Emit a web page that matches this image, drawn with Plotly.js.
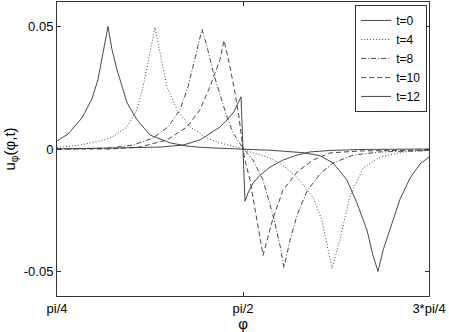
<!DOCTYPE html>
<html>
<head>
<meta charset="utf-8">
<script src="https://cdn.plot.ly/plotly-3.0.1.min.js"></script>
<style>
  html, body { margin: 0; padding: 0; background: #fff; }
  #graph { width: 449px; height: 332px; }
</style>
</head>
<body>
<div id="graph"></div>
<script>
// phi is kept in units of pi (0.25 = pi/4 ... 0.75 = 3*pi/4)
const x_t0 = [0.25, 0.2648, 0.2836, 0.2970, 0.3051, 0.3118, 0.3185, 0.3239, 0.3306, 0.3441, 0.3575, 0.3750, 0.4019, 0.4247, 0.4422, 0.4691, 0.5, 0.5363, 0.5807, 0.6035, 0.6210, 0.6398, 0.6532, 0.6667, 0.6747, 0.6815, 0.6882, 0.7003, 0.7110, 0.7245, 0.7379, 0.75];
const u_t0 = [0.0033, 0.0061, 0.0127, 0.0205, 0.0283, 0.0385, 0.0500, 0.0406, 0.0324, 0.0189, 0.0119, 0.0057, 0.0025, 0.0012, 0.0007, 0.0003, 0, -0.0005, -0.0015, -0.0027, -0.0057, -0.0127, -0.0221, -0.0332, -0.0434, -0.0500, -0.0414, -0.0303, -0.0205, -0.0119, -0.0061, -0.0033];

const x_t4 = [0.25, 0.2809, 0.3078, 0.3212, 0.3306, 0.3441, 0.3575, 0.3656, 0.3750, 0.3817, 0.3884, 0.3978, 0.4113, 0.4288, 0.4516, 0.4691, 0.5, 0.5094, 0.5296, 0.5497, 0.5726, 0.5941, 0.6062, 0.6129, 0.6196, 0.6263, 0.6317, 0.6438, 0.6613, 0.6841, 0.7151, 0.75];
const u_t4 = [0.0006, 0.0016, 0.0033, 0.0045, 0.0061, 0.0090, 0.0160, 0.0254, 0.0393, 0.0496, 0.0393, 0.0254, 0.0160, 0.0090, 0.0045, 0.0025, 0, -0.0012, -0.0029, -0.0057, -0.0115, -0.0197, -0.0291, -0.0385, -0.0488, -0.0414, -0.0352, -0.0193, -0.0078, -0.0033, -0.0012, -0.0006];

const x_t8 = [0.25, 0.3212, 0.3522, 0.3790, 0.3992, 0.4153, 0.4261, 0.4355, 0.4449, 0.4516, 0.4597, 0.4691, 0.4785, 0.4866, 0.5, 0.5134, 0.5269, 0.5403, 0.5497, 0.5551, 0.5632, 0.5726, 0.5860, 0.6035, 0.6210, 0.6479, 0.6841, 0.75];
const u_t8 = [0, 0.0004, 0.0016, 0.0045, 0.0090, 0.0160, 0.0254, 0.0365, 0.0488, 0.0418, 0.0316, 0.0221, 0.0131, 0.0066, 0.0004, -0.0045, -0.0127, -0.0270, -0.0393, -0.0484, -0.0373, -0.0270, -0.0172, -0.0102, -0.0057, -0.0025, -0.0012, -0.0006];

const x_t10 = [0.25, 0.3212, 0.3616, 0.3978, 0.4247, 0.4422, 0.4556, 0.4691, 0.4745, 0.4825, 0.4892, 0.4946, 0.5, 0.5027, 0.5094, 0.5161, 0.5228, 0.5269, 0.5323, 0.5403, 0.5538, 0.5726, 0.5941, 0.6169, 0.6573, 0.75];
const u_t10 = [0, 0, 0.0008, 0.0037, 0.0090, 0.0160, 0.0254, 0.0365, 0.0443, 0.0336, 0.0230, 0.0131, 0, -0.0045, -0.0127, -0.0238, -0.0361, -0.0434, -0.0373, -0.0283, -0.0168, -0.0094, -0.0045, -0.0016, -0.0008, -0.0004];

const x_t12 = [0.25, 0.3078, 0.3616, 0.3884, 0.4194, 0.4422, 0.4597, 0.4691, 0.4785, 0.4879, 0.4973, 0.5027, 0.5067, 0.5134, 0.5228, 0.5363, 0.5538, 0.5726, 0.5901, 0.6169, 0.6573, 0.75];
const u_t12 = [0, 0.0002, 0.0006, 0.0008, 0.0016, 0.0037, 0.0070, 0.0090, 0.0119, 0.0152, 0.0213, -0.0213, -0.0180, -0.0139, -0.0107, -0.0074, -0.0045, -0.0025, -0.0012, -0.0006, -0.0002, 0];

const series_names = ['t=0', 't=4', 't=8', 't=10', 't=12'];
const series_dash = ['solid', '1px,2px', '5px,2px,1px,2px', '5px,3px', 'solid'];

const x_tickvals = [0.25, 0.5, 0.75];
const x_ticktext = ['pi/4', 'pi/2', '3*pi/4'];
const y_tickvals = [-0.05, 0, 0.05];
const y_ticktext = ['-0.05', '0', '0.05'];

const xs = [x_t0, x_t4, x_t8, x_t10, x_t12];
const us = [u_t0, u_t4, u_t8, u_t10, u_t12];

const data = series_names.map((name, i) => ({
  x: xs[i],
  y: us[i],
  name: name,
  type: 'scatter',
  mode: 'lines',
  line: { color: '#333', width: 0.9, dash: series_dash[i] }
}));

const font = { family: 'Liberation Sans, Arial, sans-serif', size: 13, color: '#000' };

const layout = {
  width: 449,
  height: 332,
  margin: { l: 57, r: 20, t: 2, b: 36 },
  paper_bgcolor: '#fff',
  plot_bgcolor: '#fff',
  font: font,
  showlegend: true,
  legend: {
    x: 0.995, xanchor: 'right',
    y: 0.99, yanchor: 'top',
    bgcolor: '#fff',
    bordercolor: '#333',
    borderwidth: 1,
    itemwidth: 30,
    font: { family: font.family, size: 12, color: '#000' }
  },
  xaxis: {
    range: [0.25, 0.75],
    tickvals: x_tickvals,
    ticktext: x_ticktext,
    ticks: 'inside',
    ticklen: 4,
    tickcolor: '#333',
    showline: true,
    linecolor: '#333',
    linewidth: 1,
    mirror: 'ticks',
    showgrid: false,
    zeroline: false,
    title: { text: 'φ', font: { family: font.family, size: 15 }, standoff: 0 }
  },
  yaxis: {
    range: [-0.06, 0.06],
    tickvals: y_tickvals,
    ticktext: y_ticktext,
    ticks: 'inside',
    ticklen: 4,
    tickcolor: '#333',
    showline: true,
    linecolor: '#333',
    linewidth: 1,
    mirror: 'ticks',
    showgrid: false,
    zeroline: false,
    title: { text: 'u<sub>φ</sub>(φ,t)', font: { family: font.family, size: 15 }, standoff: 4 }
  }
};

Plotly.newPlot('graph', data, layout, { displayModeBar: false, staticPlot: true });
</script>
</body>
</html>
